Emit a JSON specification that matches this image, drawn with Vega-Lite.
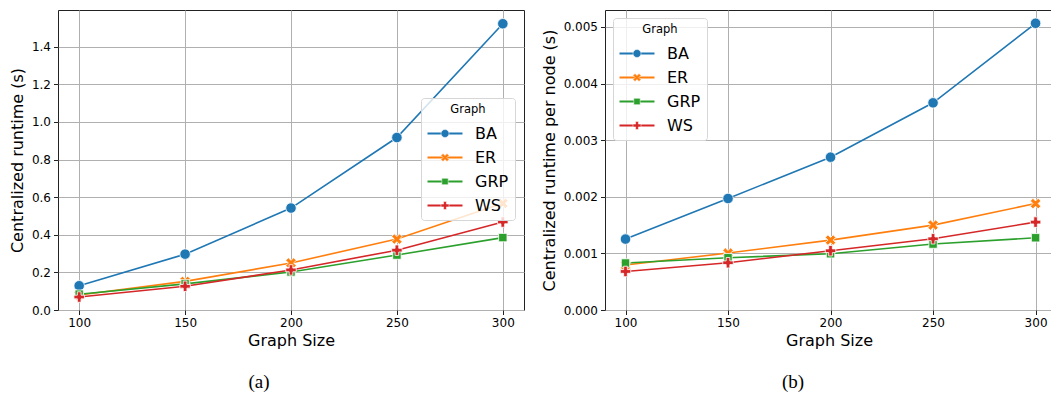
{
  "$schema": "https://vega.github.io/schema/vega-lite/v6.json",
  "padding": {"left": 8, "top": 9, "right": 0, "bottom": 0},
  "background": "white",
  "spacing": 15,
  "resolve": {
    "scale": {"color": "independent", "shape": "independent", "size": "independent"},
    "legend": {"color": "independent", "shape": "independent"}
  },
  "config": {
    "font": "DejaVu Sans",
    "view": {"stroke": "#222222", "strokeWidth": 1},
    "axis": {
      "labelFont": "DejaVu Sans",
      "labelFontSize": 12,
      "labelColor": "#000000",
      "titleFont": "DejaVu Sans",
      "titleFontSize": 16,
      "titleFontWeight": "normal",
      "titleColor": "#000000",
      "domain": false,
      "tickColor": "#222222",
      "tickSize": 4.5,
      "tickWidth": 1,
      "labelPadding": 3,
      "gridColor": "#b0b0b0",
      "gridWidth": 1,
      "grid": true
    },
    "legend": {
      "titleFont": "DejaVu Sans",
      "titleFontSize": 11.5,
      "titleFontWeight": "normal",
      "titleColor": "#000000",
      "titleAnchor": "middle",
      "titlePadding": 10,
      "labelFont": "DejaVu Sans",
      "labelFontSize": 16,
      "labelColor": "#000000",
      "labelOffset": 22,
      "symbolSize": 49,
      "symbolOffset": 10,
      "rowPadding": 8,
      "padding": 6,
      "cornerRadius": 3
    }
  },
  "datasets": {
    "runs": [
      {"size": 100, "graph": "BA", "runtime": 0.129, "per_node": 0.001253},
      {"size": 150, "graph": "BA", "runtime": 0.297, "per_node": 0.00197},
      {"size": 200, "graph": "BA", "runtime": 0.542, "per_node": 0.0027},
      {"size": 250, "graph": "BA", "runtime": 0.917, "per_node": 0.00366},
      {"size": 300, "graph": "BA", "runtime": 1.522, "per_node": 0.005065},
      {"size": 100, "graph": "ER", "runtime": 0.08, "per_node": 0.000794},
      {"size": 150, "graph": "ER", "runtime": 0.152, "per_node": 0.001006},
      {"size": 200, "graph": "ER", "runtime": 0.25, "per_node": 0.001235},
      {"size": 250, "graph": "ER", "runtime": 0.377, "per_node": 0.0015},
      {"size": 300, "graph": "ER", "runtime": 0.567, "per_node": 0.00188},
      {"size": 100, "graph": "GRP", "runtime": 0.084, "per_node": 0.00083},
      {"size": 150, "graph": "GRP", "runtime": 0.139, "per_node": 0.000923},
      {"size": 200, "graph": "GRP", "runtime": 0.202, "per_node": 0.000994},
      {"size": 250, "graph": "GRP", "runtime": 0.292, "per_node": 0.001165},
      {"size": 300, "graph": "GRP", "runtime": 0.385, "per_node": 0.001276},
      {"size": 100, "graph": "WS", "runtime": 0.069, "per_node": 0.000681},
      {"size": 150, "graph": "WS", "runtime": 0.126, "per_node": 0.000835},
      {"size": 200, "graph": "WS", "runtime": 0.213, "per_node": 0.001047},
      {"size": 250, "graph": "WS", "runtime": 0.318, "per_node": 0.001258},
      {"size": 300, "graph": "WS", "runtime": 0.468, "per_node": 0.001553}
    ]
  },
  "hconcat": [
    {
      "width": 466,
      "height": 300,
      "data": {"name": "runs"},
      "title": {"text": "(a)", "orient": "bottom", "anchor": "middle", "font": "Liberation Serif", "fontSize": 19, "fontWeight": "normal", "color": "#000000", "dx": -32, "offset": 24},
      "encoding": {
        "x": {"field": "size", "type": "quantitative", "title": "Graph Size",
              "scale": {"domain": [90, 310], "nice": false, "zero": false},
              "axis": {"values": [100, 150, 200, 250, 300], "titlePadding": 4}},
        "y": {"field": "runtime", "type": "quantitative", "title": "Centralized runtime (s)",
              "scale": {"domain": [0, 1.595], "nice": false},
              "axis": {"values": [0, 0.2, 0.4, 0.6, 0.8, 1.0, 1.2, 1.4], "format": ".1f", "titlePadding": 6}}
      },
      "resolve": {"legend": {"color": "independent", "shape": "independent"}},
      "layer": [
        {"mark": {"type": "line", "strokeWidth": 1.6},
         "encoding": {
           "color": {"field": "graph", "type": "nominal", "title": "Graph",
                     "scale": {"domain": ["BA", "ER", "GRP", "WS"], "range": ["#1f77b4", "#ff7f0e", "#2ca02c", "#d62728"]},
                     "legend": {"orient": "none", "legendX": 363, "legendY": 88,
                                "symbolType": "M-5,0H5", "symbolStrokeWidth": 1.8,
                                "fillColor": "rgba(255,255,255,0.8)", "strokeColor": "#d6d6d6"}}}},
        {"mark": {"type": "point", "filled": true, "opacity": 1, "stroke": "white", "strokeWidth": 0.8},
         "encoding": {
           "color": {"field": "graph", "type": "nominal", "title": "Graph",
                     "scale": {"domain": ["BA", "ER", "GRP", "WS"], "range": ["#1f77b4", "#ff7f0e", "#2ca02c", "#d62728"]},
                     "legend": {"orient": "none", "legendX": 363, "legendY": 88,
                                "labelOpacity": 0, "titleOpacity": 0, "symbolSize": 64,
                                "symbolStrokeColor": "white", "symbolStrokeWidth": 0.5,
                                "fillColor": "transparent", "strokeColor": "transparent"}},
           "shape": {"field": "graph", "type": "nominal", "title": "Graph",
                     "legend": {"orient": "none", "legendX": 363, "legendY": 88,
                                "labelOpacity": 0, "titleOpacity": 0, "symbolSize": 64,
                                "symbolStrokeColor": "white", "symbolStrokeWidth": 0.5,
                                "fillColor": "transparent", "strokeColor": "transparent"},
                     "scale": {"domain": ["BA", "ER", "GRP", "WS"], "range": [
                       "M1,0A1,1 0 1,1 -1,0A1,1 0 1,1 1,0Z",
                       "M-1,-0.5L-0.5,-1L0,-0.5L0.5,-1L1,-0.5L0.5,0L1,0.5L0.5,1L0,0.5L-0.5,1L-1,0.5L-0.5,0Z",
                       "M-0.8,-0.8H0.8V0.8H-0.8Z",
                       "M-0.35,-1H0.35V-0.35H1V0.35H0.35V1H-0.35V0.35H-1V-0.35H-0.35Z"]}},
           "size": {"field": "graph", "type": "nominal", "legend": null,
                    "scale": {"domain": ["BA", "ER", "GRP", "WS"], "range": [110, 110, 85, 125]}}
         }}
      ]
    },
    {
      "width": 448,
      "height": 300,
      "data": {"name": "runs"},
      "title": {"text": "(b)", "orient": "bottom", "anchor": "middle", "font": "Liberation Serif", "fontSize": 19, "fontWeight": "normal", "color": "#000000", "dx": -36, "offset": 24},
      "encoding": {
        "x": {"field": "size", "type": "quantitative", "title": "Graph Size",
              "scale": {"domain": [90, 308.5], "nice": false, "zero": false},
              "axis": {"values": [100, 150, 200, 250, 300], "titlePadding": 4}},
        "y": {"field": "per_node", "type": "quantitative", "title": "Centralized runtime per node (s)",
              "scale": {"domain": [0, 0.0053], "nice": false},
              "axis": {"values": [0, 0.001, 0.002, 0.003, 0.004, 0.005], "format": ".3f", "titlePadding": 6}}
      },
      "resolve": {"legend": {"color": "independent", "shape": "independent"}},
      "layer": [
        {"mark": {"type": "line", "strokeWidth": 1.6},
         "encoding": {
           "color": {"field": "graph", "type": "nominal", "title": "Graph",
                     "scale": {"domain": ["BA", "ER", "GRP", "WS"], "range": ["#1f77b4", "#ff7f0e", "#2ca02c", "#d62728"]},
                     "legend": {"orient": "none", "legendX": 8, "legendY": 8,
                                "symbolType": "M-5,0H5", "symbolStrokeWidth": 1.8,
                                "fillColor": "rgba(255,255,255,0.8)", "strokeColor": "#d6d6d6"}}}},
        {"mark": {"type": "point", "filled": true, "opacity": 1, "stroke": "white", "strokeWidth": 0.8},
         "encoding": {
           "color": {"field": "graph", "type": "nominal", "title": "Graph",
                     "scale": {"domain": ["BA", "ER", "GRP", "WS"], "range": ["#1f77b4", "#ff7f0e", "#2ca02c", "#d62728"]},
                     "legend": {"orient": "none", "legendX": 8, "legendY": 8,
                                "labelOpacity": 0, "titleOpacity": 0, "symbolSize": 64,
                                "symbolStrokeColor": "white", "symbolStrokeWidth": 0.5,
                                "fillColor": "transparent", "strokeColor": "transparent"}},
           "shape": {"field": "graph", "type": "nominal", "title": "Graph",
                     "legend": {"orient": "none", "legendX": 8, "legendY": 8,
                                "labelOpacity": 0, "titleOpacity": 0, "symbolSize": 64,
                                "symbolStrokeColor": "white", "symbolStrokeWidth": 0.5,
                                "fillColor": "transparent", "strokeColor": "transparent"},
                     "scale": {"domain": ["BA", "ER", "GRP", "WS"], "range": [
                       "M1,0A1,1 0 1,1 -1,0A1,1 0 1,1 1,0Z",
                       "M-1,-0.5L-0.5,-1L0,-0.5L0.5,-1L1,-0.5L0.5,0L1,0.5L0.5,1L0,0.5L-0.5,1L-1,0.5L-0.5,0Z",
                       "M-0.8,-0.8H0.8V0.8H-0.8Z",
                       "M-0.35,-1H0.35V-0.35H1V0.35H0.35V1H-0.35V0.35H-1V-0.35H-0.35Z"]}},
           "size": {"field": "graph", "type": "nominal", "legend": null,
                    "scale": {"domain": ["BA", "ER", "GRP", "WS"], "range": [110, 110, 85, 125]}}
         }}
      ]
    }
  ]
}
